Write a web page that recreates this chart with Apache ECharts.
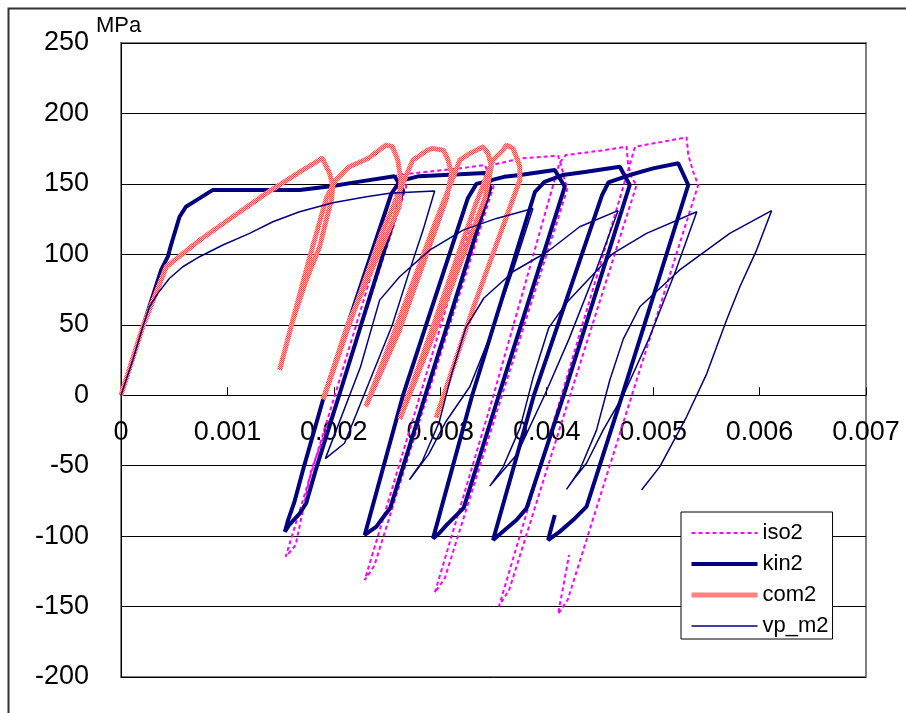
<!DOCTYPE html>
<html>
<head>
<meta charset="utf-8">
<script src="https://cdn.jsdelivr.net/npm/echarts@6/dist/echarts.min.js"></script>
<style>
html,body{margin:0;padding:0;background:#fff;}
#chart{width:906px;height:713px;}
</style>
</head>
<body>
<div id="chart"></div>
<script>
// ---- data (strain, stress MPa) ----
const xTickLabels = ['0','0.001','0.002','0.003','0.004','0.005','0.006','0.007'];
const yTickLabels = ['-200','-150','-100','-50','0','50','100','150','200','250'];
const seriesNames = ['iso2','kin2','com2','vp_m2'];

const kin2 = [
[0,0],[0.000205,48.6],[0.000378,88.9],[0.00044,98.3],[0.00047,106.6],[0.00055,126.7],[0.00061,133.8],
[0.00071,138.5],[0.00086,145.6],[0.00137,145.6],[0.00168,145.6],[0.00199,148.5],[0.00224,151.6],
[0.00257,155.4],[0.00265,145.6],[0.00205,0],[0.00183,-53],[0.00174,-76.7],[0.00168,-83.8],[0.00158,-92.1],
[0.00154,-96.9],[0.00157,-88.6],[0.00163,-75.6],[0.00171,-53.1],[0.00191,0],[0.00254,143],[0.00262,152],
[0.0028,155.5],[0.00318,156.8],[0.00342,157.7],[0.00347,147],[0.00286,0],[0.00253,-80],[0.00245,-88],
[0.0024,-93.3],[0.00229,-99.2],[0.00265,0],[0.00326,140],[0.00334,150],[0.0036,155],[0.00375,156.3],
[0.004076,159.8],[0.00417,148],[0.00355,0],[0.00322,-80],[0.00306,-92],[0.00299,-98],[0.002932,-101.6],
[0.0033,0],[0.00389,144.4],[0.00398,151.5],[0.00415,156.3],[0.004374,158.6],[0.004687,162.2],
[0.00478,149.2],[0.00416,0],[0.00381,-80.3],[0.003716,-88.6],[0.0036,-96],[0.003496,-102.8],
[0.00388,0],[0.00452,142],[0.00458,151],[0.00478,156.3],[0.005,161],[0.005236,164.6],[0.00533,149.2],
[0.00471,0],[0.004374,-79.1],[0.004248,-88.6],[0.00412,-97],[0.004013,-102.8],[0.00404,-95],[0.004076,-85]
];

const iso2 = [
[0,0],[0.000205,48.6],[0.000378,88.9],[0.00044,98.3],[0.00047,106.6],[0.00055,126.7],[0.00061,133.8],
[0.00071,138.5],[0.00086,145.6],[0.00137,145.6],[0.00168,145.6],[0.00199,148.5],[0.00224,151.6],
[0.00257,155.4],[0.00265,157],[0.00268,148],[0.00205,0],[0.001788,-53],[0.00171,-81.5],[0.001647,-104],
[0.00163,-107.5],[0.001547,-114.6],[0.00201,0],[0.00261,150],[0.00268,157],[0.00318,161],[0.00342,163.4],
[0.0035,148],[0.00288,0],[0.00238,-121],[0.00229,-131.2],[0.00281,0],[0.00344,160],[0.00352,164],
[0.003747,168],[0.004107,170],[0.00414,162],[0.00417,151.5],[0.0042,148],[0.00358,0],[0.003042,-130],
[0.002948,-140.2],[0.0035,0],[0.00412,165],[0.00418,170.5],[0.0045,173.5],[0.00475,176.4],[0.004765,163.4],
[0.0048,154],[0.004844,149.2],[0.00422,0],[0.003648,-138],[0.003552,-149.6],[0.00414,0],[0.00483,176.4],
[0.0051,180],[0.005314,183],[0.00533,170.5],[0.005376,158.6],[0.005423,149.2],[0.0048,0],[0.004198,-145],
[0.004107,-155.3],[0.00421,-113.4]
];

const com2 = [
[0,0],[0.000205,48.6],[0.000426,91.2],[0.000738,110],[0.00105,126.7],[0.001365,143.3],[0.00168,158.6],
[0.001835,165.7],[0.00189,168.5],[0.00196,157.5],[0.00199,148],[0.001977,138.5],[0.001944,129],
[0.001866,105.4],[0.001741,81.8],[0.001615,53.4],[0.00149,17.9],[0.00162,55],[0.00178,100],[0.00193,140],
[0.00201,152],[0.00214,162],[0.00232,168],[0.00249,177.6],[0.00255,176.4],[0.0026,167],[0.00263,152.6],
[0.002612,133.6],[0.00213,50],[0.0019,-3],[0.00212,45],[0.00245,115],[0.002665,153.3],[0.00274,166.7],
[0.00287,173.5],[0.002925,175.2],[0.00303,173.9],[0.003073,166.9],[0.003105,157.5],[0.00306,140],
[0.00261,45],[0.0023,-8],[0.00262,55],[0.00295,122],[0.003136,157.5],[0.003183,166.9],[0.003277,171.6],
[0.003402,176.4],[0.003449,171.6],[0.00348,162.2],[0.00342,140],[0.00292,40],[0.00262,-17],[0.00296,55],
[0.00333,135],[0.003496,166.9],[0.00359,174],[0.003622,177.6],[0.003684,175.2],[0.003747,162.2],
[0.003747,152.7],[0.0033,60],[0.00296,-16]
];

const vp_m2 = [
[0,0],[0.000111,25],[0.000205,48.6],[0.000268,62.8],[0.000346,72.3],[0.000456,83],[0.000581,91.2],
[0.000738,98.3],[0.000957,106.6],[0.001208,114.9],[0.001427,123.1],[0.001678,130.2],[0.001991,136.6],
[0.002305,140.9],[0.002524,143.3],[0.00275,144.2],[0.002947,144.9],[0.002838,117.2],[0.002713,88.8],
[0.00255,50],[0.0021,-34.1],[0.00192,-45],[0.00225,20],[0.00243,67.5],[0.002618,84.1],[0.0029,103],
[0.003214,117.2],[0.003528,125.5],[0.00387,132.6],[0.003684,88.9],[0.003465,41.5],[0.003277,6],
[0.00305,-19],[0.00289,-42],[0.00277,-54],[0.00271,-60],[0.00283,-47],[0.00299,-19],[0.00311,16],
[0.00324,48],[0.00341,69],[0.00369,88],[0.00401,102],[0.00431,119.6],[0.00467,131],[0.00446,88],
[0.00421,40],[0.00398,0],[0.00372,-42],[0.003465,-64.5],[0.00359,-51],[0.00375,-23],[0.00387,12],
[0.00402,48],[0.00419,66],[0.004624,100.7],[0.004938,114.9],[0.00541,130.2],[0.00521,88],[0.00496,40],
[0.00472,0],[0.00453,-24.8],[0.004374,-48.3],[0.004248,-60.2],[0.004186,-66.8],[0.00431,-53.1],
[0.004468,-24.8],[0.004593,10.8],[0.00472,40],[0.004875,62.8],[0.00525,88.9],[0.00572,114.9],
[0.006113,131],[0.005972,103],[0.005815,77],[0.00569,53.4],[0.005502,15],[0.005314,-15.3],
[0.005063,-50.7],[0.004891,-67.3]
];

// ---- chart ----
const FONT = 'Liberation Sans, Arial, sans-serif';
const GRID = {left:121, right:40, top:43, bottom:36};
const Y_MIN = -200, Y_MAX = 250;
const plotH = 713 - GRID.top - GRID.bottom;
const zeroOffset = -plotH * (0 - Y_MIN) / (Y_MAX - Y_MIN); // move x axis up to y = 0

// textured salmon stroke for com2 (red / pale pink dither)
const pc = document.createElement('canvas');
pc.width = 2; pc.height = 2;
const pctx = pc.getContext('2d');
pctx.fillStyle = '#FFB8B8'; pctx.fillRect(0,0,2,2);
pctx.fillStyle = '#FF4A4A'; pctx.fillRect(0,0,1,1); pctx.fillRect(1,1,1,1);
const comColor = {image: pc, repeat: 'repeat'};

const STY = {
  iso2: {color:'#FF00FF', width:2, type:[4,3], z:2},
  kin2: {color:'#000080', width:4, type:'solid', z:3},
  com2: {color:comColor, width:5, type:'solid', z:4},
  vp_m2: {color:'#000080', width:1.5, type:'solid', z:5}
};
const DATA = {iso2, kin2, com2, vp_m2};

const chart = echarts.init(document.getElementById('chart'), null, {renderer:'canvas'});
chart.setOption({
  animation:false,
  backgroundColor:'#ffffff',
  textStyle:{fontFamily:FONT},
  grid:Object.assign({show:true, borderColor:'#808080', borderWidth:2, containLabel:false, outerBoundsMode:'none'}, GRID),
  graphic:[
    {type:'rect', left:6, top:6, shape:{width:1000, height:1000}, style:{fill:'none', stroke:'#333', lineWidth:2}, silent:true, z:-1},
    {type:'text', left:96, top:15, style:{text:'MPa', fontSize:22, fontFamily:FONT, fill:'#000'}}
  ],
  xAxis:{
    type:'value', min:0, max:0.007, interval:0.001, position:'bottom', offset:zeroOffset,
    axisLine:{show:true, onZero:false, lineStyle:{color:'#000', width:1}},
    axisTick:{show:true, inside:true, length:8, lineStyle:{color:'#000'}},
    axisLabel:{margin:24, fontSize:27, color:'#000', fontFamily:FONT,
      formatter:(v)=>xTickLabels[Math.round(v/0.001)]},
    splitLine:{show:false}
  },
  yAxis:{
    type:'value', min:Y_MIN, max:Y_MAX, interval:50,
    axisLine:{show:true, onZero:false, lineStyle:{color:'#000', width:1}},
    axisTick:{show:true, inside:true, length:8, lineStyle:{color:'#000'}},
    axisLabel:{margin:32, fontSize:27, color:'#000', fontFamily:FONT,
      formatter:(v)=>yTickLabels[Math.round((v-Y_MIN)/50)]},
    splitLine:{show:true, lineStyle:{color:'#000', width:1}}
  },
  legend:{
    data:seriesNames.map(n => ({name:n, lineStyle:{width:STY[n].width, color:STY[n].color, type:STY[n].type}})),
    orient:'vertical', left:681, top:512,
    itemWidth:66, itemHeight:22, itemGap:9, padding:[10,4,2,8],
    backgroundColor:'#fff', borderColor:'#000', borderWidth:1,
    itemStyle:{opacity:0},
    textStyle:{fontSize:22, color:'#000', fontFamily:FONT},
    selectedMode:false
  },
  series:seriesNames.map(n => ({
    name:n, type:'line', data:DATA[n], symbol:'none', showSymbol:false, smooth:false, z:STY[n].z,
    lineStyle:{color:STY[n].color, width:STY[n].width, type:STY[n].type},
    itemStyle:{color: n === 'com2' ? '#FF8080' : STY[n].color},
    emphasis:{disabled:true}, animation:false
  }))
});
</script>
</body>
</html>
